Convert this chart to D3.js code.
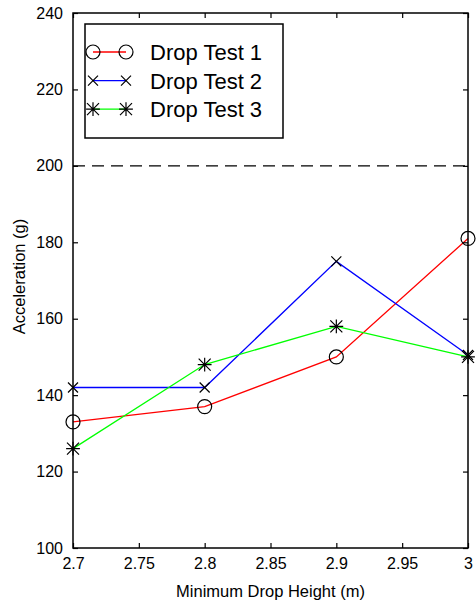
<!DOCTYPE html>
<html>
<head>
<meta charset="utf-8">
<script src="https://cdn.jsdelivr.net/npm/d3@7"></script>
<style>
  body { margin: 0; background: #fff; }
  svg { display: block; font-family: "Liberation Sans", Arial, sans-serif; }
</style>
</head>
<body>
<div id="chart"></div>
<script>
// data
const heights = [2.7, 2.8, 2.9, 3.0];
const drop1 = [133, 137, 150, 181];
const drop2 = [142, 142, 175, 150.5];
const drop3 = [126, 148, 158, 150];
const seriesNames = ['Drop Test 1', 'Drop Test 2', 'Drop Test 3'];
const xTicks = [2.7, 2.75, 2.8, 2.85, 2.9, 2.95, 3.0];
const xTickLabels = ['2.7', '2.75', '2.8', '2.85', '2.9', '2.95', '3'];
const yTicks = [100, 120, 140, 160, 180, 200, 220, 240];
const limitLine = 200;

const W = 476, H = 606;
const margin = { top: 13, right: 8, bottom: 58, left: 73 };
const width = W - margin.left - margin.right;
const height = H - margin.top - margin.bottom;

const svg = d3.select('#chart')
  .append('svg')
  .attr('width', W)
  .attr('height', H);

const g = svg.append('g')
  .attr('transform', `translate(${margin.left}, ${margin.top})`);

const x = d3.scaleLinear().domain([2.7, 3.0]).range([0, width]);
const y = d3.scaleLinear().domain([100, 240]).range([height, 0]);

const series = [
  { name: seriesNames[0], values: drop1, color: '#ff0000', marker: 'circle' },
  { name: seriesNames[1], values: drop2, color: '#0000ff', marker: 'cross' },
  { name: seriesNames[2], values: drop3, color: '#00ff00', marker: 'star' }
];

function drawMarker(sel, type, cx, cy) {
  if (type === 'circle') {
    sel.append('circle')
      .attr('cx', cx).attr('cy', cy).attr('r', 7)
      .attr('fill', 'none').attr('stroke', '#000').attr('stroke-width', 1.2);
  } else {
    const s = type === 'cross' ? 5 : 6;
    let d = `M${cx - s},${cy - s}L${cx + s},${cy + s}M${cx - s},${cy + s}L${cx + s},${cy - s}`;
    if (type === 'star') {
      const p = s * 1.15;
      d += `M${cx - p},${cy}L${cx + p},${cy}M${cx},${cy - p}L${cx},${cy + p}`;
    }
    sel.append('path').attr('d', d)
      .attr('fill', 'none').attr('stroke', '#000').attr('stroke-width', 1.2);
  }
}

// dashed limit line
g.append('line')
  .attr('x1', 0).attr('x2', width)
  .attr('y1', y(limitLine)).attr('y2', y(limitLine))
  .attr('stroke', '#000')
  .attr('stroke-width', 1.2)
  .attr('stroke-dasharray', '12,7');

// lines + markers
const line = d3.line()
  .x((d, i) => x(heights[i]))
  .y(d => y(d));

series.forEach(s => {
  g.append('path')
    .datum(s.values)
    .attr('d', line)
    .attr('fill', 'none')
    .attr('stroke', s.color)
    .attr('stroke-width', 1.3);
  const m = g.append('g');
  s.values.forEach((v, i) => drawMarker(m, s.marker, x(heights[i]), y(v)));
});

// axes (ticks pointing inward, MATLAB style)
const fmtX = d => xTickLabels[xTicks.indexOf(d)];

g.append('g')
  .attr('transform', `translate(0, ${height})`)
  .call(d3.axisBottom(x).tickValues(xTicks).tickFormat(fmtX).tickSize(-5).tickPadding(10));

g.append('g')
  .call(d3.axisTop(x).tickValues(xTicks).tickFormat('').tickSize(-5));

g.append('g')
  .call(d3.axisLeft(y).tickValues(yTicks).tickSize(-5).tickPadding(10));

g.append('g')
  .attr('transform', `translate(${width}, 0)`)
  .call(d3.axisRight(y).tickValues(yTicks).tickFormat('').tickSize(-5));

g.selectAll('.domain').remove();
g.selectAll('.tick line').attr('stroke', '#000').attr('stroke-width', 1.2);
g.selectAll('.tick text')
  .attr('fill', '#000')
  .style('font-size', '16px')
  .style('font-family', '"Liberation Sans", Arial, sans-serif');

// plot box
g.append('rect')
  .attr('width', width).attr('height', height)
  .attr('fill', 'none')
  .attr('stroke', '#000')
  .attr('stroke-width', 1.5);

// axis labels
svg.append('text')
  .attr('x', margin.left + width / 2)
  .attr('y', 597)
  .attr('text-anchor', 'middle')
  .style('font-size', '16.5px')
  .text('Minimum Drop Height (m)');

svg.append('text')
  .attr('transform', `translate(25, ${margin.top + height / 2 - 4}) rotate(-90)`)
  .attr('text-anchor', 'middle')
  .style('font-size', '16.5px')
  .text('Acceleration (g)');

// legend
const legend = svg.append('g').attr('transform', 'translate(85, 24)');
legend.append('rect')
  .attr('width', 198).attr('height', 114)
  .attr('fill', '#fff')
  .attr('stroke', '#000')
  .attr('stroke-width', 1.5);

series.forEach((s, i) => {
  const cy = 28 + i * 28.6;
  legend.append('line')
    .attr('x1', 8).attr('x2', 41)
    .attr('y1', cy).attr('y2', cy)
    .attr('stroke', s.color)
    .attr('stroke-width', 1.3);
  drawMarker(legend, s.marker, 8, cy);
  drawMarker(legend, s.marker, 41, cy);
  legend.append('text')
    .attr('x', 65)
    .attr('y', cy + 8)
    .style('font-size', '22px')
    .text(s.name);
});
</script>
</body>
</html>
